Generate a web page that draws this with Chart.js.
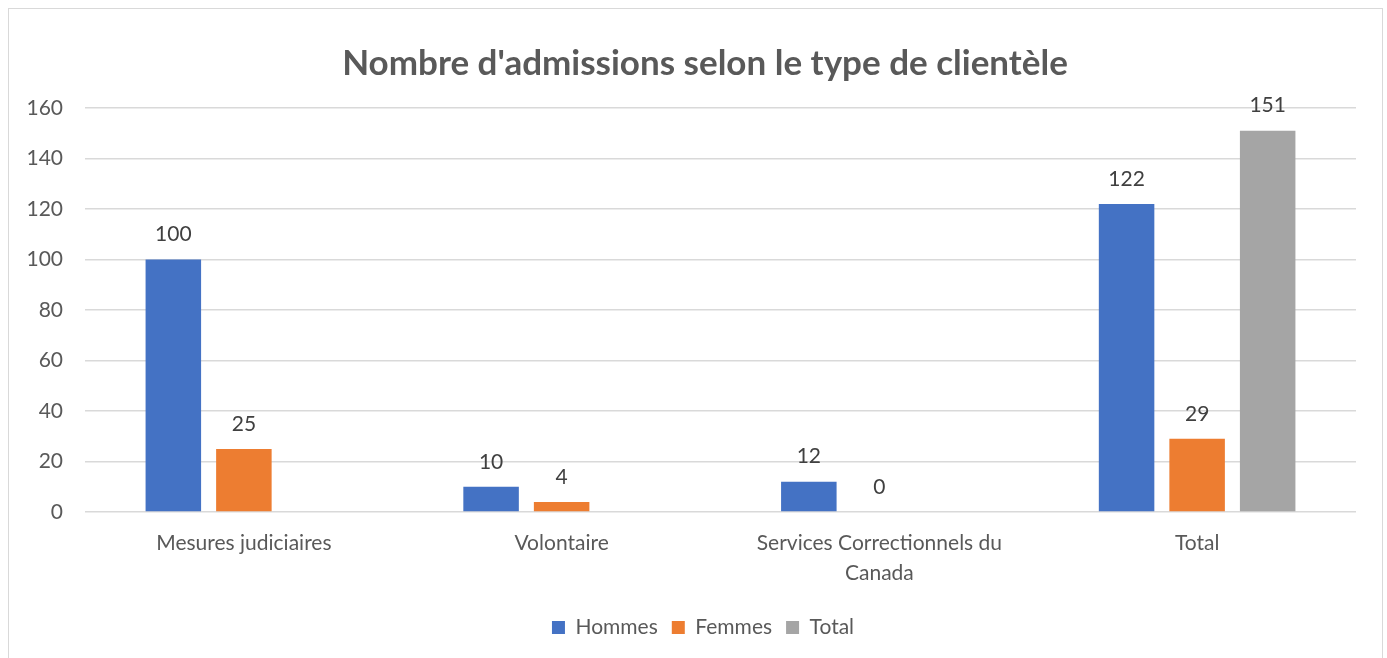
<!DOCTYPE html>
<html>
<head>
<meta charset="utf-8">
<script src="https://cdn.jsdelivr.net/npm/chart.js@4"></script>
<style>
    html, body { margin: 0; padding: 0; background: #fff; }
    #wrap { position: relative; width: 1387px; height: 658px; overflow: hidden; }
    #frame { position: absolute; left: 8px; top: 8px; width: 1375px; height: 670px; border: 1.5px solid #d9d9d9; box-sizing: border-box; }
    canvas { position: absolute; left: 0; top: 0; }
</style>
</head>
<body>
<div id="wrap">
    <div id="frame"></div>
    <canvas id="chart" width="1387" height="658"></canvas>
</div>
<script>
const categories = ['Mesures judiciaires', 'Volontaire', ['Services Correctionnels du', 'Canada'], 'Total'];
const hommes = [100, 10, 12, 122];
const femmes = [25, 4, 0, 29];
const total = [null, null, null, 151];
const yTicks = [0, 20, 40, 60, 80, 100, 120, 140, 160];

const FONT = 'Lato, "Open Sans", sans-serif';

// value labels above each bar, like Excel's data labels
const barLabels = {
    id: 'barLabels',
    afterDatasetsDraw(chart) {
        const ctx = chart.ctx;
        ctx.save();
        ctx.font = '21px ' + FONT;
        ctx.fillStyle = '#404040';
        ctx.textAlign = 'center';
        ctx.textBaseline = 'middle';
        chart.data.datasets.forEach((ds, i) => {
            const meta = chart.getDatasetMeta(i);
            meta.data.forEach((bar, j) => {
                const v = ds.data[j];
                if (v === null || v === undefined) return;
                ctx.fillText(String(v), bar.x, bar.y - 25);
            });
        });
        ctx.restore();
    }
};

// the original centres title and legend a bit right of the canvas middle
const nudge = {
    id: 'nudge',
    afterLayout(chart) {
        if (chart.titleBlock) { chart.titleBlock.left += 22; chart.titleBlock.right += 22; }
        if (chart.legend) { chart.legend.left += 20; chart.legend.right += 20; }
    }
};

new Chart(document.getElementById('chart').getContext('2d'), {
    type: 'bar',
    data: {
        labels: categories,
        datasets: [
            { label: 'Hommes', data: hommes, backgroundColor: '#4472C4' },
            { label: 'Femmes', data: femmes, backgroundColor: '#ED7D31' },
            { label: 'Total', data: total, backgroundColor: '#A5A5A5' }
        ]
    },
    options: {
        responsive: false,
        animation: false,
        categoryPercentage: 0.666,
        barPercentage: 0.787,
        layout: { padding: { left: 10, right: 31, top: 8, bottom: 10 } },
        plugins: {
            title: {
                display: true,
                text: "Nombre d'admissions selon le type de clientèle",
                color: '#595959',
                font: { family: FONT, size: 35, weight: 'bold' },
                padding: { top: 35, bottom: 23 }
            },
            legend: {
                position: 'bottom',
                labels: {
                    color: '#595959',
                    font: { family: FONT, size: 21 },
                    boxWidth: 13,
                    boxHeight: 13,
                    padding: 14
                }
            },
            tooltip: { enabled: false }
        },
        scales: {
            x: {
                grid: { display: false },
                border: { display: false },
                ticks: { color: '#595959', font: { family: FONT, size: 21, lineHeight: 1.45 }, maxRotation: 0, autoSkip: false, padding: 8 },
                afterFit(s) { s.height = 91; }
            },
            y: {
                min: 0,
                max: 160,
                afterBuildTicks(s) { s.ticks = yTicks.map(v => ({ value: v })); },
                grid: { color: '#d9d9d9', lineWidth: 1.5, drawTicks: false },
                border: { display: false },
                ticks: { color: '#595959', font: { family: FONT, size: 21 }, padding: 22 },
                afterFit(s) { s.width = 75; }
            }
        }
    },
    plugins: [barLabels, nudge]
});
</script>
</body>
</html>
